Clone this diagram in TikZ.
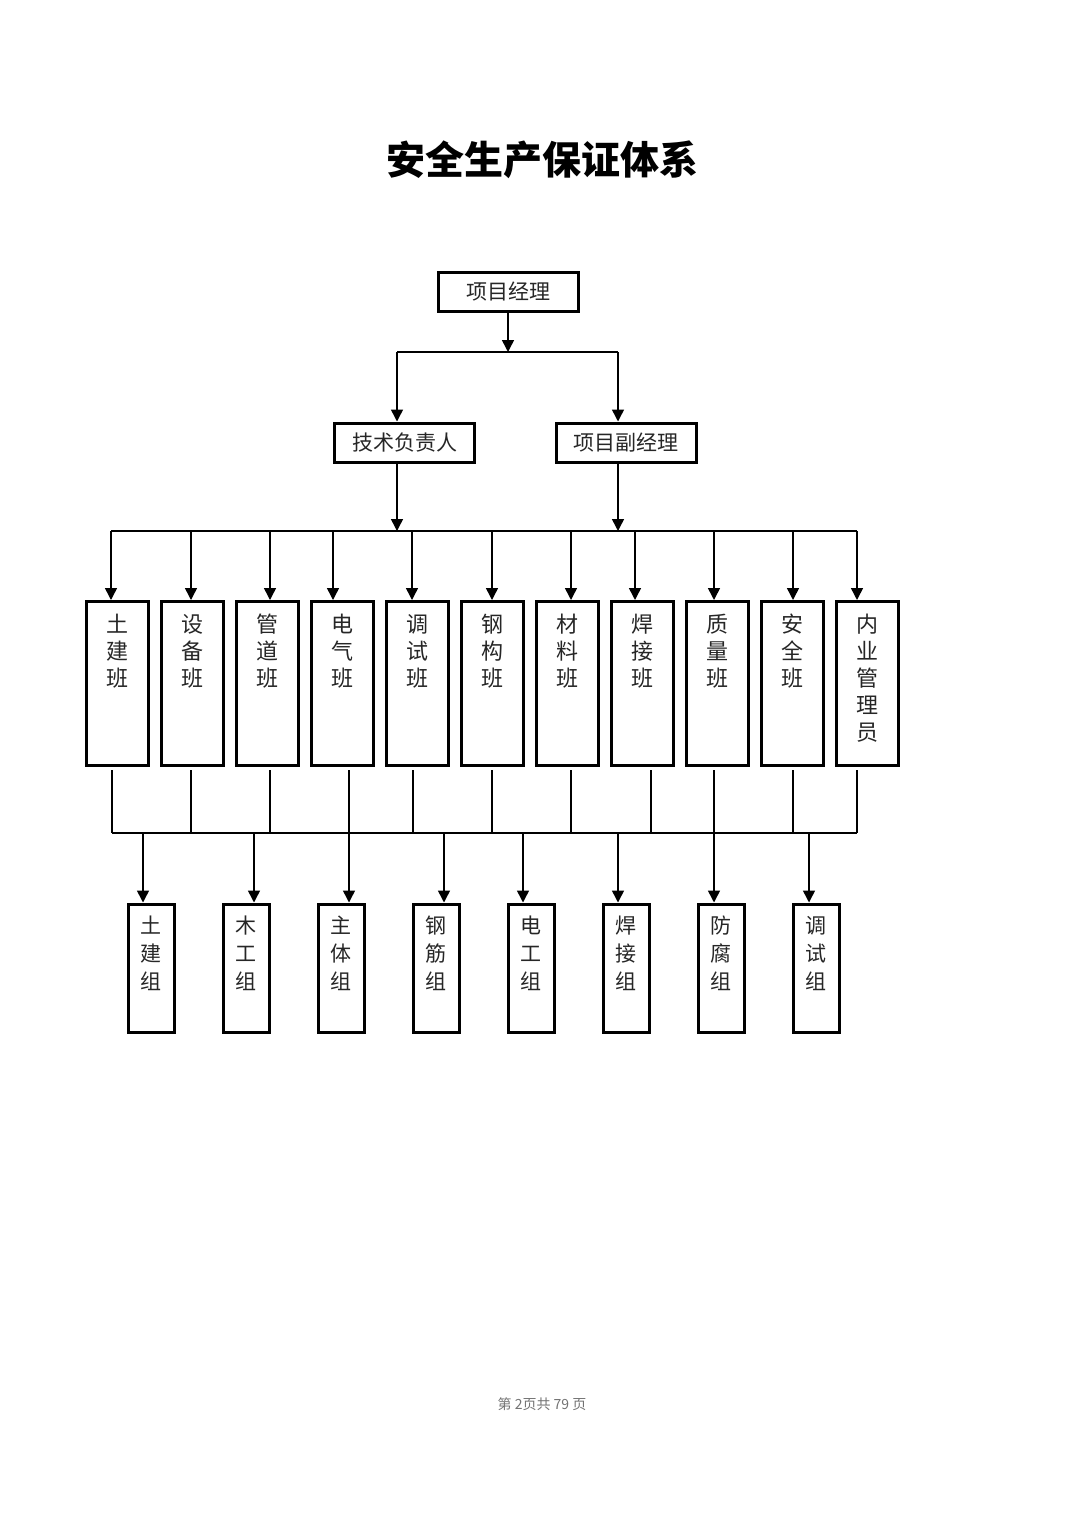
\documentclass[tikz,border=0pt]{standalone}
\usepackage{fontspec}
\setmainfont{Liberation Serif}
\newfontfamily\cjk{Noto Sans CJK SC}
\usetikzlibrary{arrows.meta}

\begin{document}
\begin{tikzpicture}[x=0.5pt,y=-0.5pt,
    box/.style={draw,line width=1.5pt,minimum width=70pt,minimum height=19.5pt,inner sep=0pt,
        text=black!85,font=\cjk\fontsize{10.5}{12}\selectfont},
    banbox/.style={draw,line width=1.5pt,minimum width=31pt,minimum height=82pt,inner sep=0pt},
    zubox/.style={draw,line width=1.5pt,minimum width=23pt,minimum height=64pt,inner sep=0pt},
    bantext/.style={anchor=north,align=center,inner sep=0pt,text=black!85,
        font=\cjk\fontsize{11}{13.5}\selectfont},
    zutext/.style={anchor=north,align=center,inner sep=0pt,text=black!85,
        font=\cjk\fontsize{10.5}{14}\selectfont},
    line/.style={line width=0.75pt},
    arr/.style={line width=0.75pt,-{Triangle[width=6pt,length=6pt]}}]
    \useasboundingbox (0,0) rectangle (1080,1515);

    % title
    \node[font=\cjk\bfseries\fontsize{19.5}{22}\selectfont] (title) at (542,160) {安全生产保证体系};

    % top levels
    \node[box] (pm) at (508,291.5) {项目经理};
    \node[box] (tech) at (404.5,442.5) {技术负责人};
    \node[box] (vice) at (626,442.5) {项目副经理};

    \coordinate (top) at (508,352);
    \coordinate (tl) at (397,352);
    \coordinate (tr) at (618,352);
    \draw[arr] (pm) -- (top);
    \draw[line] (tl) -- (tr);
    \draw[arr] (tl) -- (tl |- tech.north);
    \draw[arr] (tr) -- (tr |- vice.north);

    \coordinate (ml) at (397,531);
    \coordinate (mr) at (618,531);
    \draw[arr] (ml |- tech.south) -- (ml);
    \draw[arr] (mr |- vice.south) -- (mr);

    % teams
    \foreach \i/\t in {1/土\\建\\班,2/设\\备\\班,3/管\\道\\班,4/电\\气\\班,5/调\\试\\班,
                       6/钢\\构\\班,7/材\\料\\班,8/焊\\接\\班,9/质\\量\\班,10/安\\全\\班,
                       11/内\\业\\管\\理\\员} {
        \node[banbox] (b\i) at (42.5+75*\i,683.5) {};
        \node[bantext] (bt\i) at ([yshift=-7pt]b\i.north) {\t};
    }
    \foreach \i/\ax in {1/111,2/191,3/270,4/333,5/412,6/492,7/571,8/635,9/714,10/793,11/857} {
        \coordinate (a\i) at (\ax,531);
        \draw[arr] (a\i) -- (a\i |- b\i.north);
    }
    \draw[line] (a1) -- (a11);

    \foreach \i/\lx in {1/112,2/191,3/270,4/349,5/413,6/492,7/571,8/651,9/714,10/793,11/857} {
        \coordinate (c\i) at (\lx,833);
        \draw[line] ([yshift=-1.5pt]c\i |- b\i.south) -- (c\i);
    }
    \draw[line] (c1) -- (c11);

    % groups
    \foreach \j/\t in {1/土\\建\\组,2/木\\工\\组,3/主\\体\\组,4/钢\\筋\\组,
                       5/电\\工\\组,6/焊\\接\\组,7/防\\腐\\组,8/调\\试\\组} {
        \node[zubox] (z\j) at (56+95*\j,968) {};
        \node[zutext] (zt\j) at ([yshift=-6.5pt]z\j.north) {\t};
    }
    \foreach \j/\dx in {1/143,2/254,3/349,4/444,5/523,6/618,7/714,8/809} {
        \coordinate (d\j) at (\dx,833);
        \draw[arr] (d\j) -- (d\j |- z\j.north);
    }

    % footer
    \node[text=black!55,font=\cjk\fontsize{7}{8}\selectfont] (foot) at (542,1404) {第 2页共 79 页};
\end{tikzpicture}
\end{document}
